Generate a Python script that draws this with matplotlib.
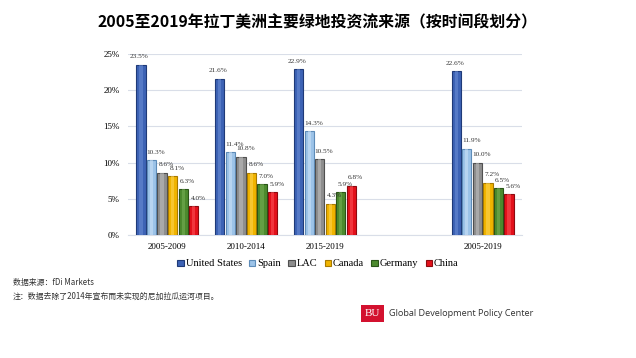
import matplotlib
matplotlib.use("Agg")
import matplotlib.pyplot as plt
import numpy as np
from matplotlib.patches import Rectangle

plt.rcParams['font.family'] = ['Noto Sans CJK SC', 'DejaVu Sans']

periods = ["2005-2009", "2010-2014", "2015-2019", "", "2005-2019"]
series = ["United States", "Spain", "LAC", "Canada", "Germany", "China"]
us = [23.5, 21.6, 22.9, None, 22.6]
spain = [10.3, 11.4, 14.3, None, 11.9]
lac = [8.6, 10.8, 10.5, None, 10.0]
canada = [8.1, 8.6, 4.3, None, 7.2]
germany = [6.3, 7.0, 5.9, None, 6.5]
china = [4.0, 5.9, 6.8, None, 5.6]
yticks = [0, 5, 10, 15, 20, 25]

values = [us, spain, lac, canada, germany, china]
colors = ["#3D63B5", "#9CC3E8", "#8E8E8E", "#F0B400", "#4C8A2E", "#E3111B"]
edges = ["#1F3A78", "#5E8CB8", "#505050", "#A87A00", "#2A5518", "#8E0A10"]
highlights = ["#6F92D8", "#D2E6F8", "#C4C4C4", "#FFD860", "#7DB45A", "#FF5A5F"]

fig = plt.figure(figsize=(6.36, 3.58), dpi=100)
ax = fig.add_axes([128/636, 1-235/358, 394/636, 181/358])

x = np.arange(len(periods))
step = 0.134
bw = 0.118
serif = ['Liberation Serif', 'DejaVu Serif']
for i, (vals, c, ec, hc) in enumerate(zip(values, colors, edges, highlights)):
    xs = [xi + (i - 2.5) * step for xi, v in zip(x, vals) if v is not None]
    vs = [v for v in vals if v is not None]
    ax.bar(xs, vs, width=bw, color=c, edgecolor=ec, linewidth=0.8, label=series[i], zorder=3)
    ax.bar(xs, vs, width=bw * 0.35, color=hc, alpha=0.5, linewidth=0, zorder=4)
    dx = -0.02 if i == 0 else 0.055
    for xx, v in zip(xs, vs):
        ax.text(xx + dx, v + 0.75, f"{v:.1f}%", ha='center', va='bottom',
                fontsize=5.2, family=serif, color='#333333', zorder=5)

ax.set_xlim(-0.5, 4.5)
ax.set_ylim(0, 25)
ax.set_yticks(yticks)
ax.set_yticklabels([f"{t}%" for t in yticks], family=serif, fontsize=6.5)
ax.set_xticks([0, 1, 2, 4])
ax.set_xticklabels([periods[0], periods[1], periods[2], periods[4]], family=serif, fontsize=6.5)
ax.tick_params(length=0, pad=6)
ax.grid(axis='y', color='#D9DEE8', linewidth=0.8, zorder=0)
for s in ['top', 'right', 'left']:
    ax.spines[s].set_visible(False)
ax.spines['bottom'].set_color('#D9DEE8')

leg = fig.legend(loc='center', bbox_to_anchor=(318/636, 1-264/358), ncol=6, frameon=False,
                 prop={'family': serif, 'size': 7.5}, handlelength=0.6, handleheight=0.6,
                 handletextpad=0.2, columnspacing=0.7)

fig.text(318/636, 1-22/358, "2005至2019年拉丁美洲主要绿地投资流来源（按时间段划分）",
         ha='center', va='center', fontsize=11.4, fontweight='bold')
fig.text(13/636, 1-283/358, "数据来源：fDi Markets", ha='left', va='center', fontsize=5.7, color='#333333')
fig.text(13/636, 1-296/358, "注：数据去除了2014年宣布而未实现的尼加拉瓜运河项目。", ha='left', va='center', fontsize=5.7, color='#333333')

fig.patches.append(Rectangle((361/636, 1-322/358), 23/636, 17/358, transform=fig.transFigure,
                             facecolor='#D3112F', edgecolor='none'))
fig.text(372.5/636, 1-313.5/358, "BU", ha='center', va='center', fontsize=8, color='white',
         family=serif)
fig.text(389/636, 1-313.5/358, "Global Development Policy Center", ha='left', va='center',
         fontsize=6.6, color='#333333', family=['Open Sans', 'DejaVu Sans'])

fig.savefig("out.png", dpi=100)
